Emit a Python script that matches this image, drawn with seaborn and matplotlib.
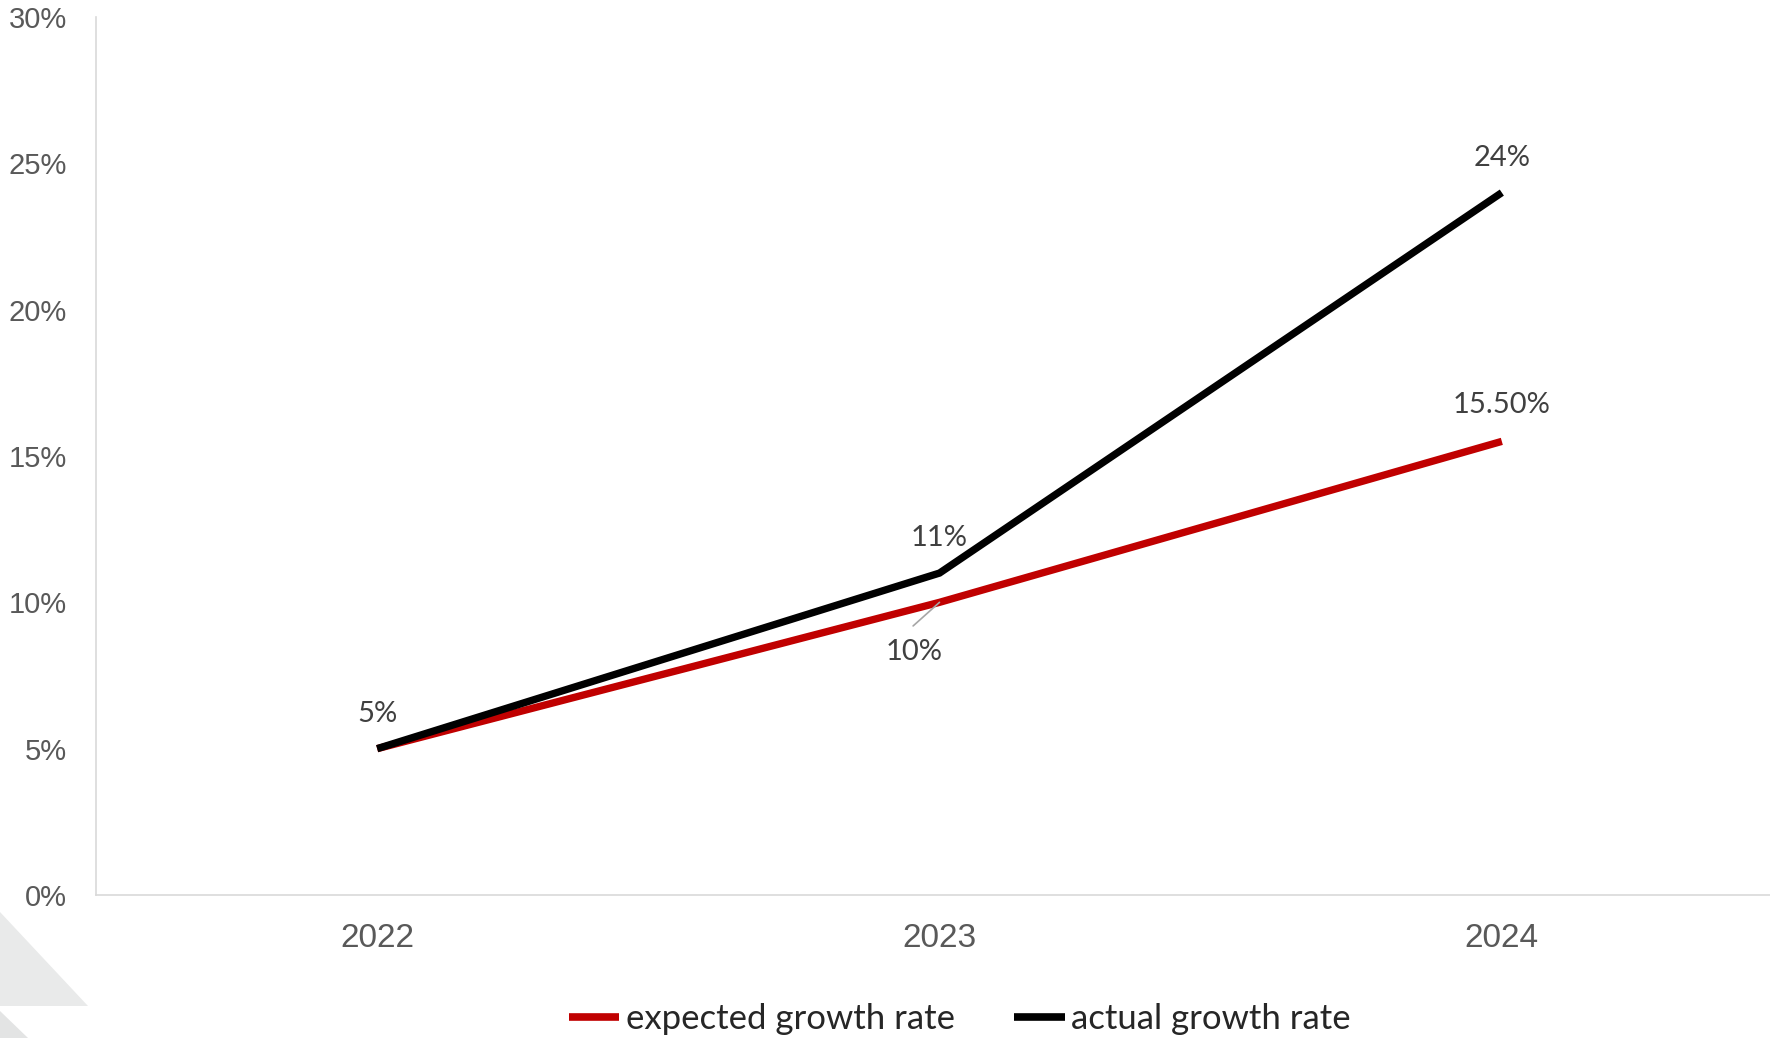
import seaborn as sns
import matplotlib.pyplot as plt
from matplotlib.patches import Polygon
import pandas as pd

# chart data
years = ['2022', '2023', '2024']
expected = [0.05, 0.10, 0.155]
actual = [0.05, 0.11, 0.24]
expected_labels = ['', '10%', '15.50%']
actual_labels = ['5%', '11%', '24%']
y_ticks = [0, 0.05, 0.10, 0.15, 0.20, 0.25, 0.30]
y_tick_labels = ['0%', '5%', '10%', '15%', '20%', '25%', '30%']

df = pd.DataFrame({
    'pos': list(range(len(years))) * 2,
    'rate': expected + actual,
    'series': ['expected growth rate'] * 3 + ['actual growth rate'] * 3,
})

sns.set_style('white')
plt.rcParams['font.family'] = ['Liberation Sans', 'DejaVu Sans']

W, H = 1770, 1038
fig = plt.figure(figsize=(W / 100, H / 100), dpi=100)

# light grey decoration in the lower left corner
fig.patches.append(Polygon([[0, 1 - 912 / H], [88 / W, 1 - 1006 / H], [0, 1 - 1006 / H]],
                           closed=True, transform=fig.transFigure, facecolor='#e9eaea',
                           edgecolor='none', zorder=0))
fig.patches.append(Polygon([[0, 1 - 1011 / H], [28 / W, 0], [0, 0]],
                           closed=True, transform=fig.transFigure, facecolor='#e3e4e4',
                           edgecolor='none', zorder=0))

ax = fig.add_axes([96 / W, 1 - 895 / H, (1783 - 96) / W, (895 - 17) / H])
ax.patch.set_alpha(0)

sns.lineplot(data=df, x='pos', y='rate', hue='series',
             palette={'expected growth rate': '#C00000', 'actual growth rate': '#000000'},
             linewidth=5.3, ax=ax, legend=False, sort=False)
for ln in ax.lines:
    ln.set_solid_joinstyle('miter')
    ln.set_solid_capstyle('butt')

ax.set_xlim(-0.5, 2.5)
ax.set_ylim(0, 0.30)
ax.set_xticks(range(len(years)))
ax.set_xticklabels(years)
ax.set_yticks(y_ticks)
ax.set_yticklabels(y_tick_labels)
ax.tick_params(axis='x', length=0, pad=20, labelsize=24, labelcolor='#595959')
ax.tick_params(axis='y', length=0, pad=21, labelsize=21, labelcolor='#595959')
ax.set_xlabel('')
ax.set_ylabel('')
for side in ['top', 'right']:
    ax.spines[side].set_visible(False)
for side in ['left', 'bottom']:
    ax.spines[side].set_color('#d9d9d9')
    ax.spines[side].set_linewidth(1.2)

lab_font = dict(fontsize=21, color='#404040', family=['Lato', 'DejaVu Sans'],
                ha='center', va='center')
for i, t in enumerate(actual_labels):
    if t:
        ax.annotate(t, (i, actual[i]), xytext=(0, 25), textcoords='offset points', **lab_font)
for i, t in enumerate(expected_labels):
    if not t:
        continue
    if i == 1:
        # label pushed below the line, with a leader line
        ax.annotate('', xy=(i, expected[i]), xytext=(-19, -17), textcoords='offset points',
                    arrowprops=dict(arrowstyle='-', color='#a6a6a6', lw=1.2,
                                    shrinkA=0, shrinkB=0))
        ax.annotate(t, (i, expected[i]), xytext=(-18, -36), textcoords='offset points', **lab_font)
    else:
        ax.annotate(t, (i, expected[i]), xytext=(0, 26), textcoords='offset points', **lab_font)

handles = [plt.Line2D([], [], color='#C00000', lw=5.5, solid_capstyle='butt'),
           plt.Line2D([], [], color='#000000', lw=5.5, solid_capstyle='butt')]
fig.legend(handles, ['expected growth rate', 'actual growth rate'],
           loc='center', bbox_to_anchor=(960 / W, 1 - 1019 / H), ncol=2, frameon=False,
           handlelength=1.45, handletextpad=0.2, columnspacing=1.7,
           prop={'family': ['Lato', 'DejaVu Sans'], 'size': 25})

fig.savefig('out.png', dpi=100)
